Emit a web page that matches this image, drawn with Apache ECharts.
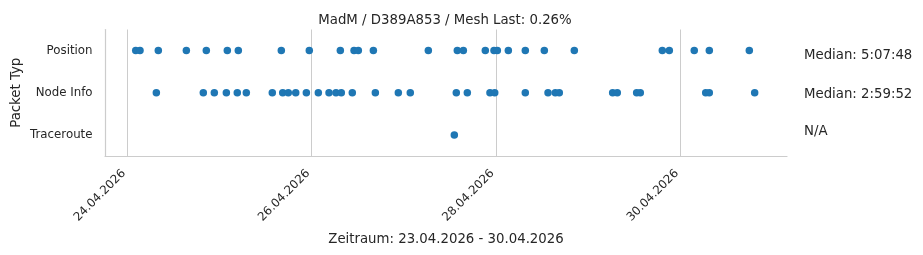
<!DOCTYPE html>
<html>
<head>
<meta charset="utf-8">
<script src="https://cdn.jsdelivr.net/npm/echarts@6/dist/echarts.min.js"></script>
<style>html,body{margin:0;padding:0;background:#fff}#c{width:923px;height:255px}</style>
</head>
<body>
<div id="c"></div>
<script>
var categories = ['Position', 'Node Info', 'Traceroute'];
var positionTimes = ['2026-04-24 02:11','2026-04-24 03:18','2026-04-24 08:04','2026-04-24 15:22','2026-04-24 20:34',
  '2026-04-25 02:02','2026-04-25 04:54','2026-04-25 16:06','2026-04-25 23:23','2026-04-26 07:28','2026-04-26 11:02',
  '2026-04-26 12:09','2026-04-26 16:04','2026-04-27 06:23','2026-04-27 13:56','2026-04-27 15:30','2026-04-27 21:13',
  '2026-04-27 23:29','2026-04-28 00:21','2026-04-28 03:13','2026-04-28 07:38','2026-04-28 12:35','2026-04-28 20:24',
  '2026-04-29 19:19','2026-04-29 21:08','2026-04-30 03:38','2026-04-30 07:33','2026-04-30 17:58'];
var nodeInfoTimes = ['2026-04-24 07:33','2026-04-24 19:47','2026-04-24 22:39','2026-04-25 01:47','2026-04-25 04:38',
  '2026-04-25 06:59','2026-04-25 13:45','2026-04-25 16:28','2026-04-25 17:55','2026-04-25 19:51','2026-04-25 22:37',
  '2026-04-26 01:44','2026-04-26 04:31','2026-04-26 06:20','2026-04-26 07:43','2026-04-26 10:35','2026-04-26 16:35',
  '2026-04-26 22:34','2026-04-27 01:41','2026-04-27 13:40','2026-04-27 16:32','2026-04-27 22:26','2026-04-27 23:40',
  '2026-04-28 07:38','2026-04-28 13:33','2026-04-28 15:27','2026-04-28 16:29','2026-04-29 06:23','2026-04-29 07:35',
  '2026-04-29 12:38','2026-04-29 13:35','2026-04-30 06:37','2026-04-30 07:33','2026-04-30 19:22'];
var tracerouteTimes = ['2026-04-27 13:09'];
var tickDates = ['2026-04-24 00:00','2026-04-26 00:00','2026-04-28 00:00','2026-04-30 00:00'];
var rangeStart = '2026-04-23 18:11';
var rangeEnd = '2026-05-01 03:47';
var medianTexts = ['Median: 5:07:48', 'Median: 2:59:52', 'N/A'];
var titleText = 'MadM / D389A853 / Mesh Last: 0.26%';
var xName = 'Zeitraum: 23.04.2026 - 30.04.2026';
var yName = 'Packet Typ';

function ts(s) {
  var p = s.split(/[- :]/).map(Number);
  return new Date(p[0], p[1] - 1, p[2], p[3], p[4]).getTime();
}
function pad(n) { return (n < 10 ? '0' : '') + n; }
var timesByCat = [positionTimes, nodeInfoTimes, tracerouteTimes];
var data = [];
timesByCat.forEach(function (arr, i) {
  arr.forEach(function (t) { data.push([ts(t), categories[i]]); });
});
var ticks = tickDates.map(ts);
var font = 'DejaVu Sans';
var txt = '#262626';
var bigFont = 13.3;
var tickFont = 11.8;

var chart = echarts.init(document.getElementById('c'), null, {renderer: 'canvas'});
var graphics = medianTexts.map(function (t, i) {
  return {
    type: 'text', left: 804, top: [49.5, 88, 125.5][i],
    style: {text: t, fontFamily: font, fontSize: bigFont, fill: txt}
  };
});
chart.setOption({
  animation: false,
  title: {
    text: titleText, left: 440, top: 9, textAlign: 'center',
    textStyle: {fontFamily: font, fontSize: bigFont, fontWeight: 'normal', color: txt}
  },
  grid: {left: 105, right: 136, top: 29.5, bottom: 99, containLabel: false, outerBoundsMode: 'none'},
  xAxis: {
    type: 'value', min: ts(rangeStart), max: ts(rangeEnd), scale: true,
    name: xName, nameLocation: 'middle', nameGap: 77,
    nameTextStyle: {fontFamily: font, fontSize: bigFont, color: txt},
    axisLine: {show: true, onZero: false, lineStyle: {color: '#cccccc', width: 1.2}},
    axisTick: {show: false, customValues: ticks},
    axisLabel: {
      customValues: ticks, rotate: 45, margin: 12, padding: [0, 5, 0, 0],
      fontFamily: font, fontSize: tickFont, color: txt,
      showMinLabel: true, showMaxLabel: true,
      formatter: function (v) { var d = new Date(v); return pad(d.getDate()) + '.' + pad(d.getMonth() + 1) + '.' + d.getFullYear(); }
    },
    splitLine: {show: true, lineStyle: {color: '#cccccc', width: 1}}
  },
  yAxis: {
    type: 'category', data: categories, inverse: true,
    name: yName, nameLocation: 'middle', nameGap: 82, nameRotate: 90, nameMoveOverlap: false,
    nameTextStyle: {fontFamily: font, fontSize: bigFont, color: txt},
    axisLine: {show: true, lineStyle: {color: '#cccccc', width: 1.2}},
    axisTick: {show: false},
    axisLabel: {margin: 12.5, fontFamily: font, fontSize: tickFont, color: txt},
    splitLine: {show: false}
  },
  series: [{
    type: 'scatter', data: data, symbolSize: 7.5,
    itemStyle: {color: '#1f77b4', opacity: 1}
  }],
  graphic: graphics
});
</script>
</body>
</html>
